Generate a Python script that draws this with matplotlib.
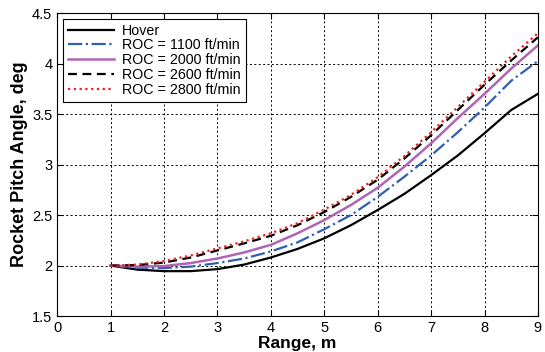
import matplotlib
matplotlib.use('Agg')
import matplotlib.pyplot as plt

plt.rcParams['font.family'] = ['Liberation Sans', 'DejaVu Sans']

rng = [1, 1.5, 2, 2.5, 3, 3.5, 4, 4.5, 5, 5.5, 6, 6.5, 7, 7.5, 8, 8.5, 9]
hover = [2.0, 1.96, 1.945, 1.945, 1.965, 2.01, 2.08, 2.165, 2.27, 2.40, 2.55, 2.71, 2.895, 3.09, 3.31, 3.54, 3.70]
roc1100 = [2.0, 1.98, 1.975, 1.99, 2.025, 2.07, 2.14, 2.23, 2.36, 2.50, 2.68, 2.88, 3.09, 3.32, 3.565, 3.83, 4.025]
roc2000 = [2.0, 1.99, 1.995, 2.025, 2.07, 2.13, 2.205, 2.32, 2.45, 2.60, 2.77, 2.98, 3.21, 3.46, 3.70, 3.95, 4.18]
roc2600 = [2.0, 2.005, 2.03, 2.08, 2.15, 2.22, 2.295, 2.40, 2.53, 2.68, 2.85, 3.06, 3.29, 3.54, 3.79, 4.03, 4.26]
roc2800 = [2.0, 2.01, 2.045, 2.10, 2.17, 2.24, 2.32, 2.42, 2.555, 2.70, 2.875, 3.085, 3.32, 3.57, 3.82, 4.07, 4.30]

fig = plt.figure(figsize=(5.45, 3.52), dpi=100)
ax = fig.add_axes([0.105, 0.102, 0.882, 0.861])

ax.plot(rng, hover, color='black', lw=1.6, label='Hover')
ax.plot(rng, roc1100, color='#2f5fb3', lw=1.6, ls='-.', label='ROC = 1100 ft/min')
ax.plot(rng, roc2000, color='#b064b4', lw=1.8, label='ROC = 2000 ft/min')
ax.plot(rng, roc2600, color='black', lw=1.6, ls=(0, (4, 2.5)), label='ROC = 2600 ft/min')
ax.plot(rng, roc2800, color='#ee2020', lw=1.6, ls=(0, (1, 1.6)), label='ROC = 2800 ft/min')

ax.set_xlim(0, 9)
ax.set_ylim(1.5, 4.5)
ax.set_xticks(range(0, 10))
ax.set_yticks([1.5, 2, 2.5, 3, 3.5, 4, 4.5])
ax.set_yticklabels(['1.5', '2', '2.5', '3', '3.5', '4', '4.5'])
ax.tick_params(direction='in', labelsize=10.5, length=4, top=True, right=True)
ax.grid(True, color='black', ls=(0, (2, 2.5)), lw=0.7)

ax.set_xlabel('Range, m', fontsize=12.5, fontweight='bold', labelpad=1)
ax.set_ylabel('Rocket Pitch Angle, deg', fontsize=13, fontweight='bold', labelpad=3)

leg = ax.legend(loc='upper left', fontsize=10.3, fancybox=False, framealpha=1,
                edgecolor='black', borderaxespad=0.4, handlelength=3.2,
                handletextpad=0.6, borderpad=0.35, labelspacing=0.05)
leg.get_frame().set_linewidth(0.8)

fig.savefig('out.png', dpi=100)
